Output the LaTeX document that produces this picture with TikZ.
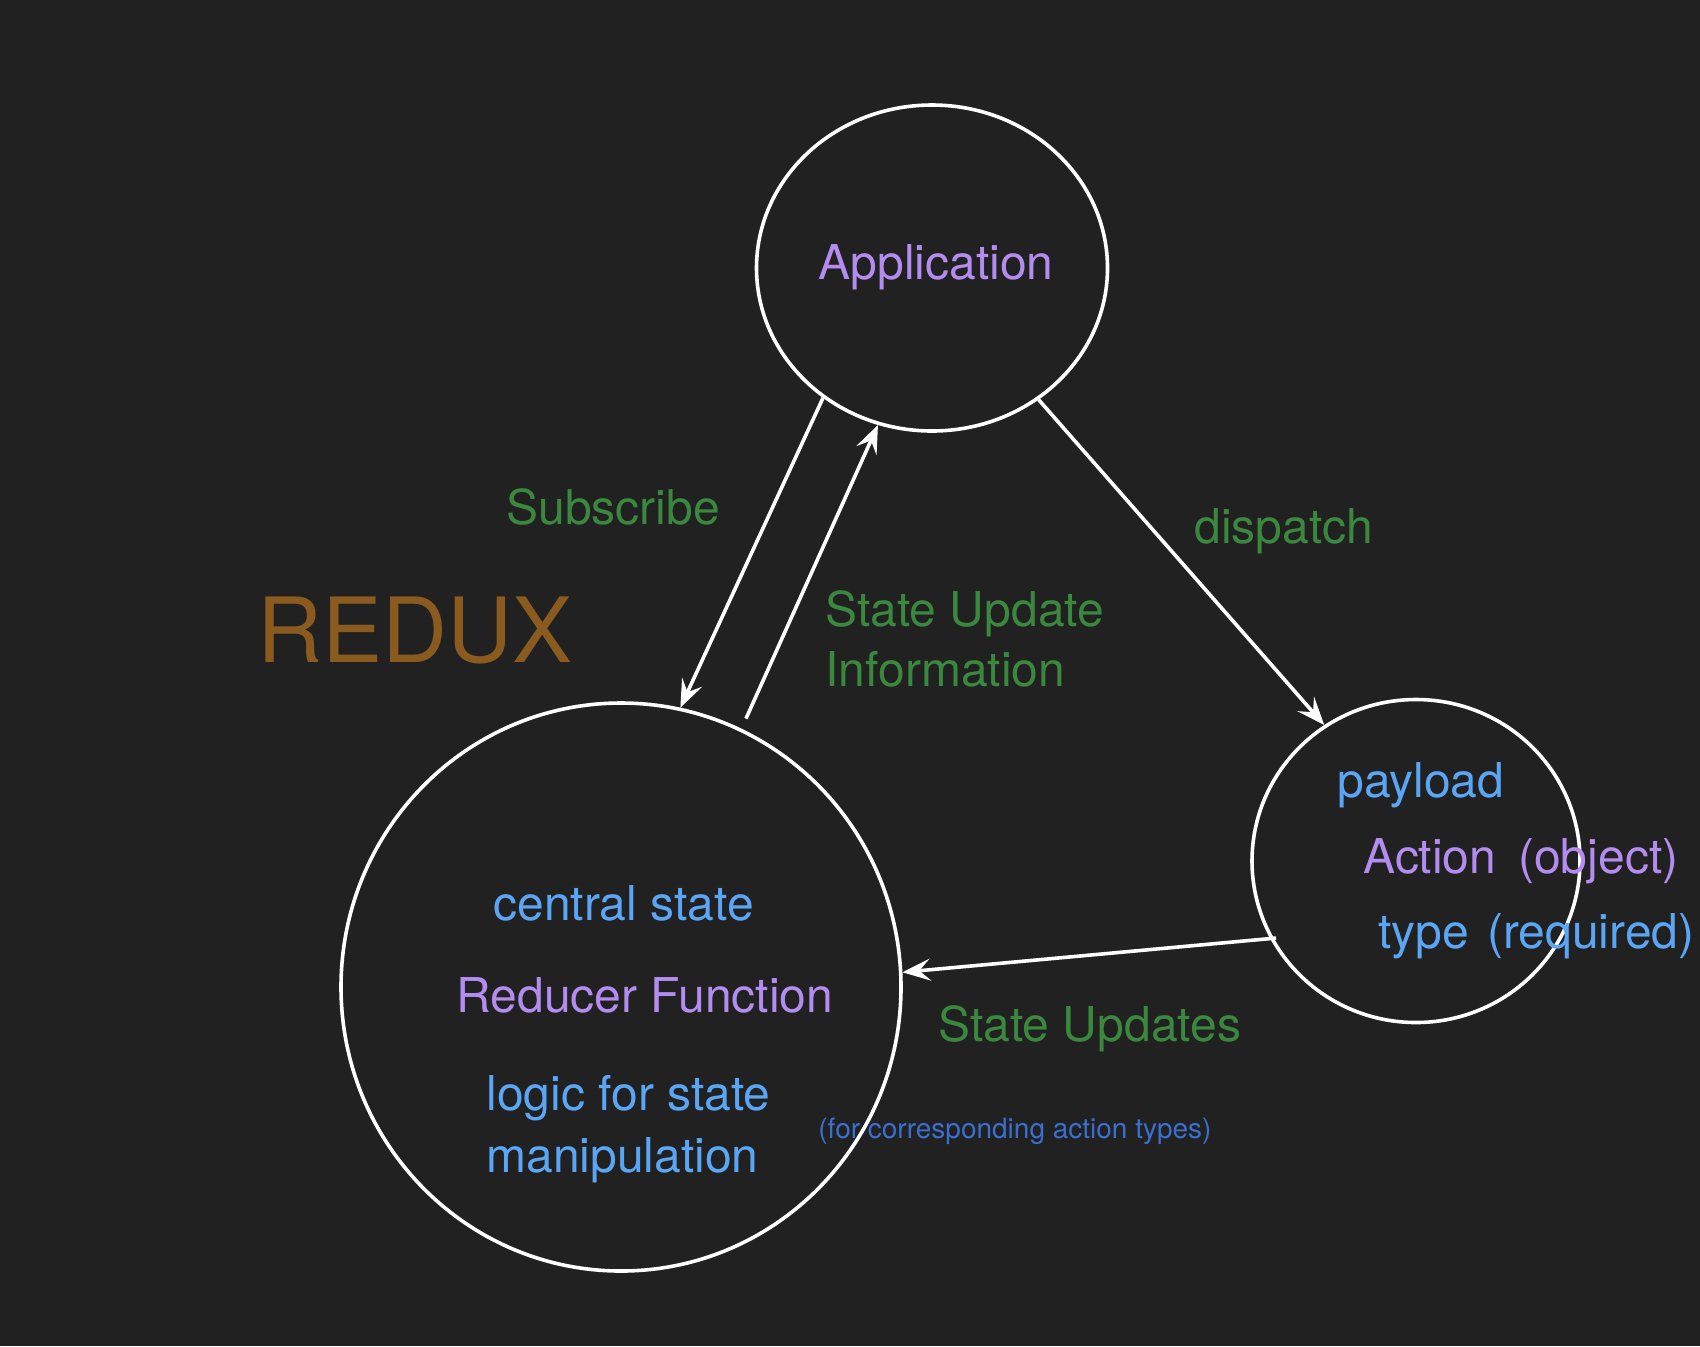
\documentclass[tikz,border=0pt]{standalone}
\usepackage{fontspec}
\setmainfont{TeX Gyre Heros}
\usetikzlibrary{shapes.geometric, arrows.meta, positioning}
\usepackage{xcolor}
\definecolor{bgdark}{HTML}{212121}
\definecolor{flowgreen}{HTML}{3A873E}
\definecolor{rolepurple}{HTML}{B48CF0}
\definecolor{keyblue}{HTML}{5AA6F5}
\definecolor{noteblue}{HTML}{3A6FD0}
\definecolor{reduxbrown}{HTML}{8A5A1E}
\tikzset{
  bubble/.style={ellipse, draw=white, line width=1.8pt, inner sep=0pt},
  flow/.style={-{Stealth[length=14pt,width=11pt,inset=5.5pt]}, draw=white, line width=1.8pt},
  bigtext/.style={font=\fontsize{24pt}{30pt}\selectfont, inner sep=0pt},
  flowlabel/.style={bigtext, text=flowgreen},
  rolelabel/.style={bigtext, text=rolepurple},
  keylabel/.style={bigtext, text=keyblue},
  notelabel/.style={font=\fontsize{14pt}{17pt}\selectfont, text=noteblue, inner sep=0pt},
  titlelabel/.style={font=\fontsize{45pt}{54pt}\selectfont, text=reduxbrown, inner sep=0pt},
}

\begin{document}
\begin{tikzpicture}[x=0.5pt, y=-0.5pt]
  \useasboundingbox (0,0) rectangle (1700,1346);
  \fill[bgdark] (0,0) rectangle (1700,1346);

  % --- the three circles ---
  \node[bubble, minimum width=175.5pt, minimum height=163pt] (app) at (932,268) {};
  \node[bubble, minimum width=280pt, minimum height=284pt]   (red) at (621,987) {};
  \node[bubble, minimum width=164pt, minimum height=161.5pt] (act) at (1416,861) {};

  % --- texts ---
  \node[rolelabel, anchor=base]       (apptext) at (936,279)  {Application};
  \node[titlelabel, anchor=base west] (title)   at (257,662)  {REDUX};
  \node[flowlabel, anchor=base west]  (sub)     at (506,524)  {Subscribe};
  \node[flowlabel, anchor=base west]  (disp)    at (1194,543) {dispatch};
  \node[flowlabel, anchor=base west]  (info1)   at (825,626)  {State Update};
  \node[flowlabel, anchor=base west]  (info2)   at (825,686)  {Information};

  \node[keylabel, anchor=base west]  (payload)  at (1337,797) {payload};
  \node[rolelabel, anchor=base west] (acttext)  at (1363,873) {Action\hspace{11pt}(object)};
  \node[keylabel, anchor=base west]  (typetext) at (1378,948) {type\hspace{9pt}(required)};

  \node[keylabel, anchor=base west]  (central)  at (493,920)  {central state};
  \node[rolelabel, anchor=base west] (reducer)  at (456,1012) {Reducer Function};
  \node[keylabel, anchor=base west]  (logic1)   at (486,1110) {logic for state};
  \node[keylabel, anchor=base west]  (logic2)   at (486,1172) {manipulation};

  \node[flowlabel, anchor=base west] (upd)  at (938,1041) {State Updates};
  \node[notelabel, anchor=base west] (note) at (818,1138) {(for corresponding action types)};

  % --- connectors ---
  \draw[flow] (app.230) -- (red.78);
  \draw[flow, shorten <=5.5pt] (red.65) -- (app.251);
  \draw[flow] (app.309) -- (act.124);
  \draw[flow, shorten <=-3pt] (act.208) -- (red.3);
\end{tikzpicture}
\end{document}
